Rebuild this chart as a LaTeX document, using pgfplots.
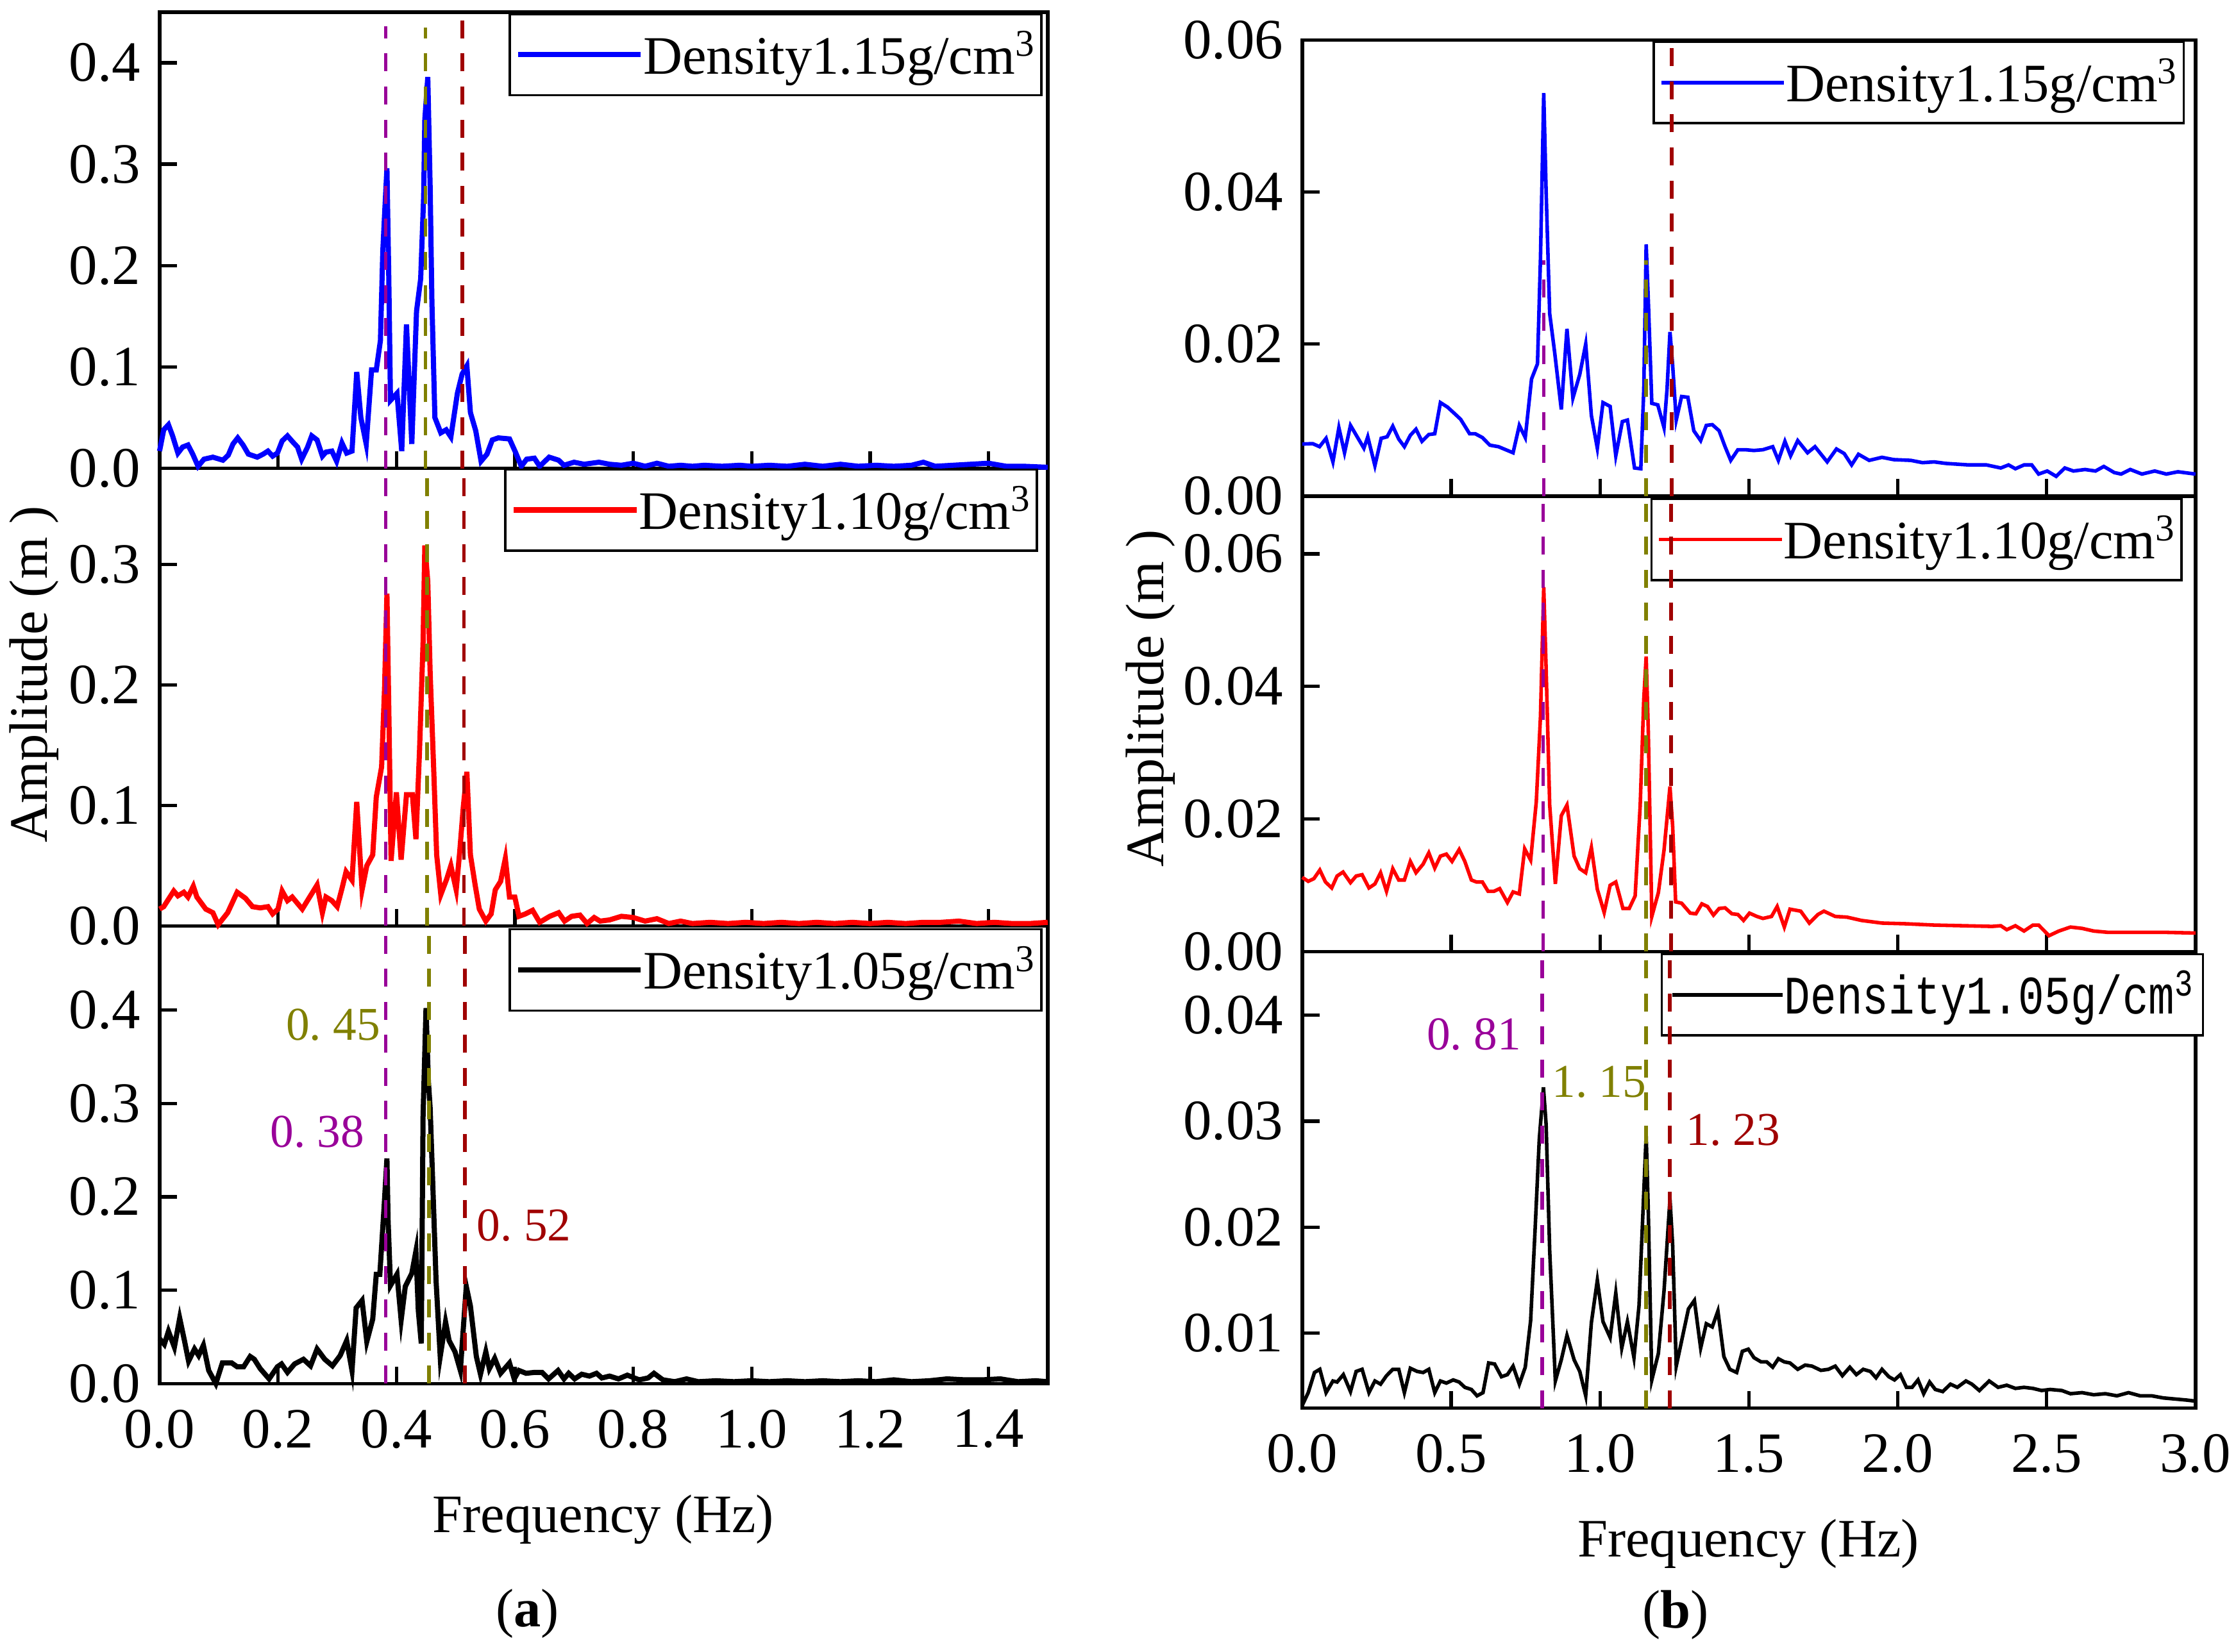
\documentclass[border=0pt]{standalone}
\usepackage{fontspec}
\setmainfont{Liberation Serif}
\newfontfamily\simsun{Liberation Mono}[FakeStretch=0.8]
\usepackage{pgfplots}
\pgfplotsset{compat=1.18}
\definecolor{cpurple}{RGB}{153,0,153}
\definecolor{colive}{RGB}{128,128,0}
\definecolor{cdred}{RGB}{160,0,0}
\newcommand{\ann}[2]{{\fontsize{16.5}{16.5}\selectfont #1.\hspace{0.25em}#2}}
\pgfplotsset{
  base/.style={scale only axis, set layers, clip=false,
    axis line style={line width=1.2pt},
    tick style={line width=1.2pt, black},
    major tick length=6pt, tick align=inside, tick pos=left,
    tick label style={font=\fontsize{20}{20}\selectfont, inner sep=0pt},
    /pgf/number format/assume math mode=true,
    scaled x ticks=false, scaled y ticks=false,
    xticklabel style={yshift=-9pt, /pgf/number format/.cd, fixed, fixed zerofill, precision=1},
    yticklabel style={xshift=-6.5pt},
    legend cell align=left,
    legend style={draw=black, line width=0.8pt, fill=white, inner xsep=2pt, inner ysep=3pt,
      anchor=north east, at={(1,1)}, font=\fontsize{19}{19}\selectfont,
      nodes={inner sep=0pt, text height=18pt, text depth=4.5pt}, /tikz/column sep=0pt},
  },
  apanel/.style={base, width=311.4pt, xmin=0, xmax=1.5, xtick={0,0.2,...,1.4},
    yticklabel style={/pgf/number format/.cd, fixed, fixed zerofill, precision=1},
    legend image code/.code={\draw[##1, line width=1.9pt] (0pt,0pt) -- (43pt,0pt);}},
  bpanel/.style={base, width=313.2pt, xmin=0, xmax=3, xtick={0,0.5,...,3},
    yticklabel style={/pgf/number format/.cd, fixed, fixed zerofill, precision=2},
    legend image code/.code={\draw[##1, line width=1.3pt] (0pt,0pt) -- (43pt,0pt);}},
  vdash/.style={line width=1.3pt, dash pattern=on 6.3pt off 5.3pt, forget plot, on layer=axis foreground},
}
\begin{document}
\begin{tikzpicture}

% ---------------- Panel (a) top ----------------
\begin{axis}[apanel, at={(55.95pt,414.95pt)}, anchor=south west, height=160pt,
  ymin=0, ymax=0.45, ytick={0,0.1,...,0.4}, xticklabels={},
  legend style={xshift=-1.85pt, yshift=-0.25pt}]
\addplot[blue, line width=1.8pt] coordinates {
(0,0.017)(0.007,0.038)(0.015,0.043)(0.022,0.032)(0.031,0.015)(0.039,0.021)(0.048,0.023)(0.056,0.014)(0.065,0.002)(0.075,0.009)(0.090,0.011)(0.107,0.008)(0.116,0.013)(0.124,0.024)(0.132,0.030)(0.141,0.023)(0.150,0.014)(0.165,0.011)(0.175,0.014)(0.183,0.017)(0.191,0.012)(0.199,0.015)(0.207,0.027)(0.216,0.032)(0.225,0.026)(0.233,0.021)(0.240,0.009)(0.250,0.021)(0.257,0.032)(0.266,0.028)(0.275,0.012)(0.281,0.016)(0.291,0.017)(0.299,0.007)(0.308,0.025)(0.316,0.015)(0.325,0.017)(0.333,0.095)(0.340,0.050)(0.349,0.024)(0.358,0.097)(0.366,0.097)(0.373,0.126)(0.377,0.214)(0.380,0.250)(0.384,0.296)(0.387,0.193)(0.390,0.067)(0.401,0.074)(0.409,0.017)(0.417,0.142)(0.426,0.024)(0.434,0.155)(0.441,0.187)(0.446,0.268)(0.448,0.344)(0.453,0.386)(0.457,0.277)(0.460,0.163)(0.465,0.050)(0.475,0.035)(0.484,0.038)(0.492,0.031)(0.503,0.074)(0.511,0.093)(0.519,0.101)(0.525,0.055)(0.534,0.037)(0.543,0.007)(0.553,0.014)(0.562,0.028)(0.572,0.030)(0.591,0.029)(0.601,0.016)(0.611,0.002)(0.620,0.009)(0.633,0.010)(0.642,0.002)(0.658,0.011)(0.674,0.008)(0.683,0.003)(0.700,0.006)(0.717,0.004)(0.742,0.006)
(0.76,0.004)(0.78,0.003)(0.80,0.005)(0.82,0.002)(0.84,0.005)(0.86,0.002)(0.88,0.003)(0.90,0.002)(0.92,0.003)(0.95,0.002)(0.98,0.003)(1.00,0.002)(1.03,0.003)(1.06,0.002)(1.09,0.004)(1.12,0.002)(1.15,0.004)(1.18,0.002)(1.21,0.003)(1.24,0.002)(1.27,0.003)(1.29,0.006)(1.31,0.002)(1.34,0.003)(1.37,0.004)(1.40,0.005)(1.43,0.002)(1.46,0.002)(1.50,0.001)};
\addlegendentry{Density1.15g/cm\textsuperscript{3}}
\addplot[cpurple, vdash] coordinates {(0.382,0)(0.382,0.436)};
\addplot[colive, vdash] coordinates {(0.449,0)(0.449,0.435)};
\addplot[cdred, vdash] coordinates {(0.511,0)(0.511,0.453)};
\end{axis}

% ---------------- Panel (a) middle ----------------
\begin{axis}[apanel, at={(55.95pt,254.45pt)}, anchor=south west, height=160.5pt,
  ymin=0, ymax=0.38, ytick={0,0.1,0.2,0.3}, xticklabels={},
  legend style={xshift=-3.35pt, yshift=0pt}]
\addplot[red, line width=1.8pt] coordinates {
(0,0.014)(0.007,0.016)(0.024,0.029)(0.031,0.025)(0.041,0.028)(0.048,0.024)(0.057,0.033)(0.063,0.024)(0.078,0.014)(0.090,0.011)(0.099,0.001)(0.115,0.011)(0.131,0.028)(0.145,0.023)(0.157,0.016)(0.170,0.015)(0.183,0.016)(0.191,0.010)(0.200,0.014)(0.207,0.029)(0.216,0.021)(0.224,0.024)(0.241,0.014)(0.256,0.026)(0.266,0.034)(0.275,0.011)(0.281,0.024)(0.291,0.021)(0.300,0.016)(0.308,0.031)(0.315,0.045)(0.325,0.038)(0.333,0.103)(0.342,0.030)(0.350,0.050)(0.360,0.059)(0.366,0.107)(0.375,0.132)(0.380,0.198)(0.384,0.276)(0.387,0.185)(0.391,0.054)(0.400,0.111)(0.408,0.055)(0.417,0.109)(0.427,0.109)(0.433,0.072)(0.439,0.145)(0.445,0.235)(0.448,0.316)(0.453,0.286)(0.457,0.210)(0.463,0.130)(0.468,0.059)(0.475,0.026)(0.485,0.039)(0.492,0.050)(0.501,0.030)(0.507,0.062)(0.513,0.099)(0.519,0.128)(0.525,0.059)(0.533,0.034)(0.540,0.014)(0.551,0.004)(0.560,0.010)(0.567,0.030)(0.576,0.037)(0.584,0.056)(0.591,0.024)(0.600,0.024)(0.607,0.008)(0.618,0.010)(0.630,0.013)(0.642,0.003)(0.659,0.008)(0.674,0.011)(0.684,0.004)(0.696,0.008)(0.710,0.009)(0.722,0.002)(0.734,0.007)(0.744,0.004)
(0.76,0.005)(0.78,0.008)(0.80,0.007)(0.82,0.004)(0.84,0.006)(0.86,0.002)(0.88,0.004)(0.90,0.002)(0.93,0.003)(0.96,0.002)(0.99,0.003)(1.02,0.002)(1.05,0.003)(1.08,0.002)(1.11,0.003)(1.14,0.002)(1.17,0.003)(1.20,0.002)(1.23,0.003)(1.26,0.002)(1.29,0.003)(1.32,0.003)(1.35,0.004)(1.38,0.002)(1.41,0.003)(1.44,0.002)(1.47,0.002)(1.50,0.003)};
\addlegendentry{Density1.10g/cm\textsuperscript{3}}
\addplot[cpurple, vdash] coordinates {(0.382,0)(0.382,0.38)};
\addplot[colive, vdash] coordinates {(0.452,0)(0.452,0.38)};
\addplot[cdred, vdash] coordinates {(0.514,0)(0.514,0.38)};
\end{axis}

% ---------------- Panel (a) bottom ----------------
\begin{axis}[apanel, at={(55.95pt,93.95pt)}, anchor=south west, height=160.5pt,
  ymin=0, ymax=0.49, ytick={0,0.1,...,0.4},
  legend style={xshift=-1.85pt, yshift=-0.75pt}]
\addplot[black, line width=1.8pt] coordinates {
(0,0.048)(0.008,0.042)(0.015,0.056)(0.025,0.039)(0.034,0.070)(0.042,0.046)(0.049,0.024)(0.059,0.037)(0.066,0.030)(0.074,0.041)(0.083,0.014)(0.095,0.000)(0.106,0.022)(0.122,0.022)(0.131,0.018)(0.142,0.018)(0.153,0.029)(0.160,0.026)(0.170,0.016)(0.185,0.005)(0.199,0.018)(0.206,0.021)(0.216,0.012)(0.228,0.021)(0.243,0.026)(0.255,0.019)(0.266,0.037)(0.279,0.026)(0.292,0.019)(0.305,0.030)(0.316,0.046)(0.325,0.014)(0.332,0.081)(0.342,0.089)(0.350,0.045)(0.360,0.069)(0.366,0.117)(0.372,0.117)(0.379,0.187)(0.384,0.241)(0.386,0.174)(0.390,0.105)(0.401,0.117)(0.408,0.068)(0.415,0.104)(0.426,0.118)(0.433,0.142)(0.437,0.078)(0.442,0.043)(0.445,0.286)(0.450,0.402)(0.454,0.324)(0.457,0.295)(0.462,0.203)(0.467,0.110)(0.474,0.029)(0.483,0.066)(0.489,0.046)(0.499,0.034)(0.508,0.014)(0.518,0.104)(0.525,0.083)(0.535,0.029)(0.542,0.010)(0.551,0.034)(0.557,0.016)(0.566,0.027)(0.576,0.011)(0.591,0.022)(0.599,0.005)(0.607,0.014)(0.619,0.011)(0.634,0.012)(0.646,0.012)(0.657,0.005)(0.673,0.014)(0.683,0.005)(0.691,0.011)(0.701,0.005)(0.713,0.010)(0.726,0.008)(0.738,0.011)(0.747,0.006)
(0.76,0.008)(0.775,0.005)(0.79,0.009)(0.81,0.004)(0.825,0.006)(0.835,0.011)(0.85,0.004)(0.87,0.002)(0.89,0.005)(0.91,0.002)(0.94,0.003)(0.97,0.002)(1.00,0.003)(1.03,0.002)(1.06,0.003)(1.09,0.002)(1.12,0.003)(1.15,0.002)(1.18,0.003)(1.21,0.002)(1.24,0.004)(1.27,0.002)(1.30,0.003)(1.33,0.005)(1.36,0.004)(1.39,0.004)(1.42,0.005)(1.45,0.002)(1.48,0.003)(1.50,0.002)};
\addlegendentry{Density1.05g/cm\textsuperscript{3}}
\addplot[cpurple, vdash] coordinates {(0.382,0)(0.382,0.49)};
\addplot[colive, vdash] coordinates {(0.455,0)(0.455,0.49)};
\addplot[cdred, vdash] coordinates {(0.516,0)(0.516,0.49)};
\node[anchor=east, inner sep=0pt, text=colive] at (axis cs:0.3736,0.384) {\ann{0}{45}};
\node[anchor=east, inner sep=0pt, text=cpurple] at (axis cs:0.347,0.2694) {\ann{0}{38}};
\node[anchor=west, inner sep=0pt, text=cdred] at (axis cs:0.535,0.169) {\ann{0}{52}};
\end{axis}

% ---------------- Panel (b) top ----------------
\begin{axis}[bpanel, at={(456.6pt,405.2pt)}, anchor=south west, height=160pt,
  ymin=0, ymax=0.06, ytick={0,0.02,0.04,0.06}, xticklabels={},
  legend style={xshift=-3.7pt, yshift=-0.3pt}]
\addplot[blue, line width=1.25pt] coordinates {
(0,0.00685)(0.035,0.0069)(0.058,0.0065)(0.080,0.0076)(0.103,0.0045)(0.123,0.0090)(0.142,0.0057)(0.162,0.0093)(0.207,0.0063)(0.220,0.0078)(0.244,0.0040)(0.265,0.0076)(0.285,0.0078)(0.304,0.0092)(0.324,0.0075)(0.343,0.0065)(0.363,0.0080)(0.382,0.0088)(0.402,0.0072)(0.425,0.0081)(0.445,0.0082)(0.464,0.0123)(0.488,0.0117)(0.513,0.0108)(0.532,0.0101)(0.562,0.0082)(0.581,0.0082)(0.605,0.0077)(0.630,0.0067)(0.659,0.0065)(0.708,0.0057)(0.729,0.0093)(0.749,0.0077)(0.770,0.0154)(0.790,0.0174)(0.800,0.0312)(0.811,0.0530)(0.819,0.0401)(0.831,0.0240)(0.848,0.0188)(0.870,0.0114)(0.889,0.0220)(0.909,0.0129)(0.932,0.0160)(0.952,0.0200)(0.971,0.0106)(0.991,0.0063)(1.010,0.0123)(1.034,0.0118)(1.053,0.0053)(1.075,0.0098)(1.092,0.0100)(1.116,0.0037)(1.137,0.0036)(1.147,0.0140)(1.155,0.0331)(1.162,0.0260)(1.174,0.0122)(1.194,0.0120)(1.215,0.0090)(1.225,0.0140)(1.235,0.0216)(1.244,0.0172)(1.256,0.0100)(1.274,0.0131)(1.295,0.0130)(1.315,0.0086)(1.338,0.0073)(1.357,0.0093)(1.377,0.0094)(1.400,0.0086)(1.420,0.0065)(1.439,0.0047)(1.463,0.0061)(1.488,0.0061)(1.517,0.0060)(1.547,0.0061)(1.580,0.0065)(1.599,0.0047)(1.621,0.0072)(1.640,0.0053)(1.664,0.0073)(1.697,0.0057)(1.722,0.0065)(1.763,0.0045)(1.794,0.0062)(1.820,0.0056)(1.845,0.0041)(1.868,0.0055)(1.904,0.0047)(1.947,0.0051)(1.986,0.0048)(2.044,0.0047)(2.083,0.0044)(2.122,0.0045)(2.161,0.0043)(2.239,0.0041)(2.298,0.0041)(2.346,0.0037)(2.372,0.0041)(2.395,0.0036)(2.424,0.0041)(2.450,0.0041)(2.473,0.0029)(2.502,0.0033)(2.532,0.0026)(2.561,0.0037)(2.590,0.0033)(2.629,0.0035)(2.664,0.0033)(2.692,0.0039)(2.727,0.0031)(2.750,0.0029)(2.781,0.0035)(2.820,0.0029)(2.863,0.0033)(2.902,0.0029)(2.941,0.0032)(3.0,0.0029)};
\addlegendentry{Density1.15g/cm\textsuperscript{3}}
\addplot[cpurple, vdash] coordinates {(0.811,0)(0.811,0.031)};
\addplot[colive, vdash] coordinates {(1.155,0)(1.155,0.031)};
\addplot[cdred, vdash] coordinates {(1.240,0)(1.240,0.06)};
\end{axis}

% ---------------- Panel (b) middle ----------------
\begin{axis}[bpanel, at={(456.6pt,245.45pt)}, anchor=south west, height=159.75pt,
  ymin=0, ymax=0.0687, ytick={0,0.02,0.04,0.06}, xticklabels={},
  legend style={xshift=-4.5pt, yshift=-0.55pt}]
\addplot[red, line width=1.25pt] coordinates {
(0,0.0112)(0.020,0.0106)(0.039,0.0110)(0.059,0.0123)(0.078,0.0105)(0.099,0.0096)(0.117,0.0114)(0.137,0.0120)(0.162,0.0104)(0.181,0.0114)(0.201,0.0116)(0.224,0.0096)(0.244,0.0102)(0.263,0.0119)(0.283,0.0091)(0.304,0.0125)(0.324,0.0108)(0.343,0.0108)(0.363,0.0136)(0.382,0.0119)(0.406,0.0132)(0.425,0.0149)(0.445,0.0126)(0.464,0.0144)(0.484,0.0147)(0.503,0.0136)(0.527,0.0154)(0.546,0.0136)(0.568,0.0108)(0.585,0.0105)(0.605,0.0105)(0.624,0.0091)(0.644,0.0091)(0.663,0.0095)(0.689,0.0074)(0.708,0.0090)(0.729,0.0087)(0.747,0.0155)(0.767,0.0138)(0.786,0.0226)(0.800,0.0354)(0.811,0.0550)(0.819,0.0427)(0.831,0.0221)(0.850,0.0102)(0.870,0.0205)(0.889,0.0221)(0.913,0.0144)(0.932,0.0125)(0.952,0.0119)(0.971,0.0157)(0.991,0.0094)(1.014,0.0059)(1.034,0.0100)(1.053,0.0105)(1.077,0.0065)(1.098,0.0065)(1.118,0.0084)(1.135,0.0221)(1.147,0.0381)(1.155,0.0445)(1.162,0.0336)(1.174,0.0053)(1.196,0.0089)(1.215,0.0153)(1.235,0.0249)(1.244,0.0189)(1.254,0.0075)(1.274,0.0073)(1.303,0.0058)(1.322,0.0057)(1.342,0.0072)(1.361,0.0068)(1.381,0.0055)(1.400,0.0065)(1.420,0.0066)(1.443,0.0057)(1.463,0.0056)(1.482,0.0047)(1.502,0.0058)(1.527,0.0053)(1.547,0.0050)(1.576,0.0053)(1.595,0.0068)(1.619,0.0037)(1.638,0.0064)(1.674,0.0061)(1.703,0.0043)(1.732,0.0056)(1.752,0.0061)(1.790,0.0053)(1.829,0.0052)(1.878,0.0047)(1.947,0.0043)(2.025,0.0042)(2.122,0.0040)(2.220,0.0039)(2.317,0.0038)(2.346,0.0039)(2.366,0.0033)(2.395,0.0039)(2.424,0.0031)(2.454,0.0040)(2.473,0.0040)(2.508,0.0024)(2.541,0.0031)(2.580,0.0037)(2.619,0.0035)(2.658,0.0031)(2.707,0.0029)(2.805,0.0029)(2.902,0.0029)(3.0,0.0028)};
\addlegendentry{Density1.10g/cm\textsuperscript{3}}
\addplot[cpurple, vdash] coordinates {(0.809,0)(0.809,0.0687)};
\addplot[colive, vdash] coordinates {(1.155,0)(1.155,0.0687)};
\addplot[cdred, vdash] coordinates {(1.238,0)(1.238,0.0687)};
\end{axis}

% ---------------- Panel (b) bottom ----------------
\begin{axis}[bpanel, at={(456.6pt,85.3pt)}, anchor=south west, height=160.15pt,
  ymin=0.00293, ymax=0.046, ytick={0.01,0.02,0.03,0.04},
  legend style={xshift=3pt, yshift=-0.5pt, font=\simsun\fontsize{19}{19}\selectfont, inner xsep=3pt},
  legend image code/.code={\draw[#1, line width=1.3pt] (0pt,0pt) -- (38.7pt,0pt);}]
\addplot[black, line width=1.25pt] coordinates {
(0,0.0032)(0.020,0.0044)(0.041,0.0063)(0.059,0.0066)(0.080,0.0044)(0.103,0.0055)(0.117,0.0054)(0.138,0.0061)(0.162,0.0045)(0.181,0.0064)(0.201,0.0066)(0.224,0.0044)(0.244,0.0055)(0.263,0.0052)(0.283,0.0060)(0.304,0.0066)(0.324,0.0066)(0.343,0.0044)(0.363,0.0067)(0.386,0.0064)(0.406,0.0063)(0.425,0.0066)(0.445,0.0044)(0.464,0.0055)(0.484,0.0053)(0.507,0.0056)(0.527,0.0054)(0.546,0.0049)(0.568,0.0047)(0.587,0.0041)(0.607,0.0044)(0.626,0.0072)(0.646,0.0071)(0.669,0.0059)(0.689,0.0061)(0.708,0.0069)(0.729,0.0052)(0.749,0.0068)(0.767,0.0112)(0.782,0.0198)(0.796,0.0283)(0.810,0.0332)(0.819,0.0297)(0.831,0.0178)(0.850,0.0055)(0.870,0.0075)(0.889,0.0098)(0.913,0.0075)(0.932,0.0064)(0.952,0.0041)(0.971,0.0110)(0.991,0.0150)(1.010,0.0111)(1.034,0.0096)(1.053,0.0138)(1.073,0.0086)(1.092,0.0111)(1.114,0.0077)(1.131,0.0126)(1.143,0.0206)(1.155,0.0287)(1.162,0.0217)(1.174,0.0056)(1.196,0.0081)(1.215,0.0140)(1.235,0.0227)(1.244,0.0183)(1.256,0.0069)(1.278,0.0098)(1.297,0.0123)(1.317,0.0131)(1.338,0.0086)(1.357,0.0109)(1.377,0.0106)(1.396,0.0121)(1.416,0.0078)(1.436,0.0066)(1.459,0.0063)(1.478,0.0083)(1.498,0.0085)(1.517,0.0077)(1.541,0.0073)(1.560,0.0073)(1.580,0.0068)(1.599,0.0076)(1.619,0.0073)(1.638,0.0072)(1.664,0.0066)(1.689,0.0070)(1.712,0.0069)(1.742,0.0065)(1.767,0.0066)(1.790,0.0069)(1.814,0.0060)(1.839,0.0068)(1.861,0.0061)(1.884,0.0066)(1.908,0.0064)(1.927,0.0058)(1.947,0.0066)(1.970,0.0059)(1.989,0.0056)(2.009,0.0061)(2.029,0.0049)(2.048,0.0049)(2.068,0.0056)(2.087,0.0043)(2.107,0.0054)(2.126,0.0047)(2.151,0.0045)(2.177,0.0052)(2.200,0.0049)(2.229,0.0055)(2.249,0.0052)(2.274,0.0046)(2.307,0.0055)(2.337,0.0049)(2.366,0.0051)(2.395,0.0048)(2.424,0.0049)(2.454,0.0048)(2.483,0.0046)(2.512,0.0047)(2.551,0.0046)(2.580,0.0043)(2.619,0.0044)(2.658,0.0042)(2.697,0.0043)(2.736,0.0041)(2.775,0.0044)(2.814,0.0041)(2.853,0.0041)(2.892,0.0039)(2.931,0.0038)(2.970,0.0037)(3.0,0.0036)};
\addlegendentry{Density1.05g/cm\textsuperscript{3}}
\addplot[cpurple, vdash] coordinates {(0.806,0.00293)(0.806,0.046)};
\addplot[colive, vdash] coordinates {(1.155,0.00293)(1.155,0.046)};
\addplot[cdred, vdash] coordinates {(1.235,0.00293)(1.235,0.046)};
\node[anchor=east, inner sep=0pt, text=cpurple] at (axis cs:0.7366,0.0382) {\ann{0}{81}};
\node[anchor=west, inner sep=0pt, text=colive] at (axis cs:0.837,0.0337) {\ann{1}{15}};
\node[anchor=west, inner sep=0pt, text=cdred] at (axis cs:1.287,0.0292) {\ann{1}{23}};
\end{axis}

% ---------------- labels ----------------
\node[font=\fontsize{19}{19}\selectfont] at (211.5pt,46.2pt) {Frequency (Hz)};
\node[font=\fontsize{19}{19}\selectfont] at (613pt,37.7pt) {Frequency (Hz)};
\node[font=\fontsize{19}{19}\selectfont, rotate=90] at (12pt,342.7pt) {Amplitude (m\hspace{0.25em})};
\node[font=\fontsize{19}{19}\selectfont, rotate=90] at (403.5pt,334.2pt) {Amplitude (m\hspace{0.25em})};
\node[font=\fontsize{19}{19}\selectfont] at (185pt,13.2pt) {(\textbf{a})};
\node[font=\fontsize{19}{19}\selectfont] at (587.5pt,12.7pt) {(\textbf{b})};
\pgfresetboundingbox
\path[use as bounding box] (0pt,0pt) rectangle (784pt,579.2pt);
\end{tikzpicture}
\end{document}
